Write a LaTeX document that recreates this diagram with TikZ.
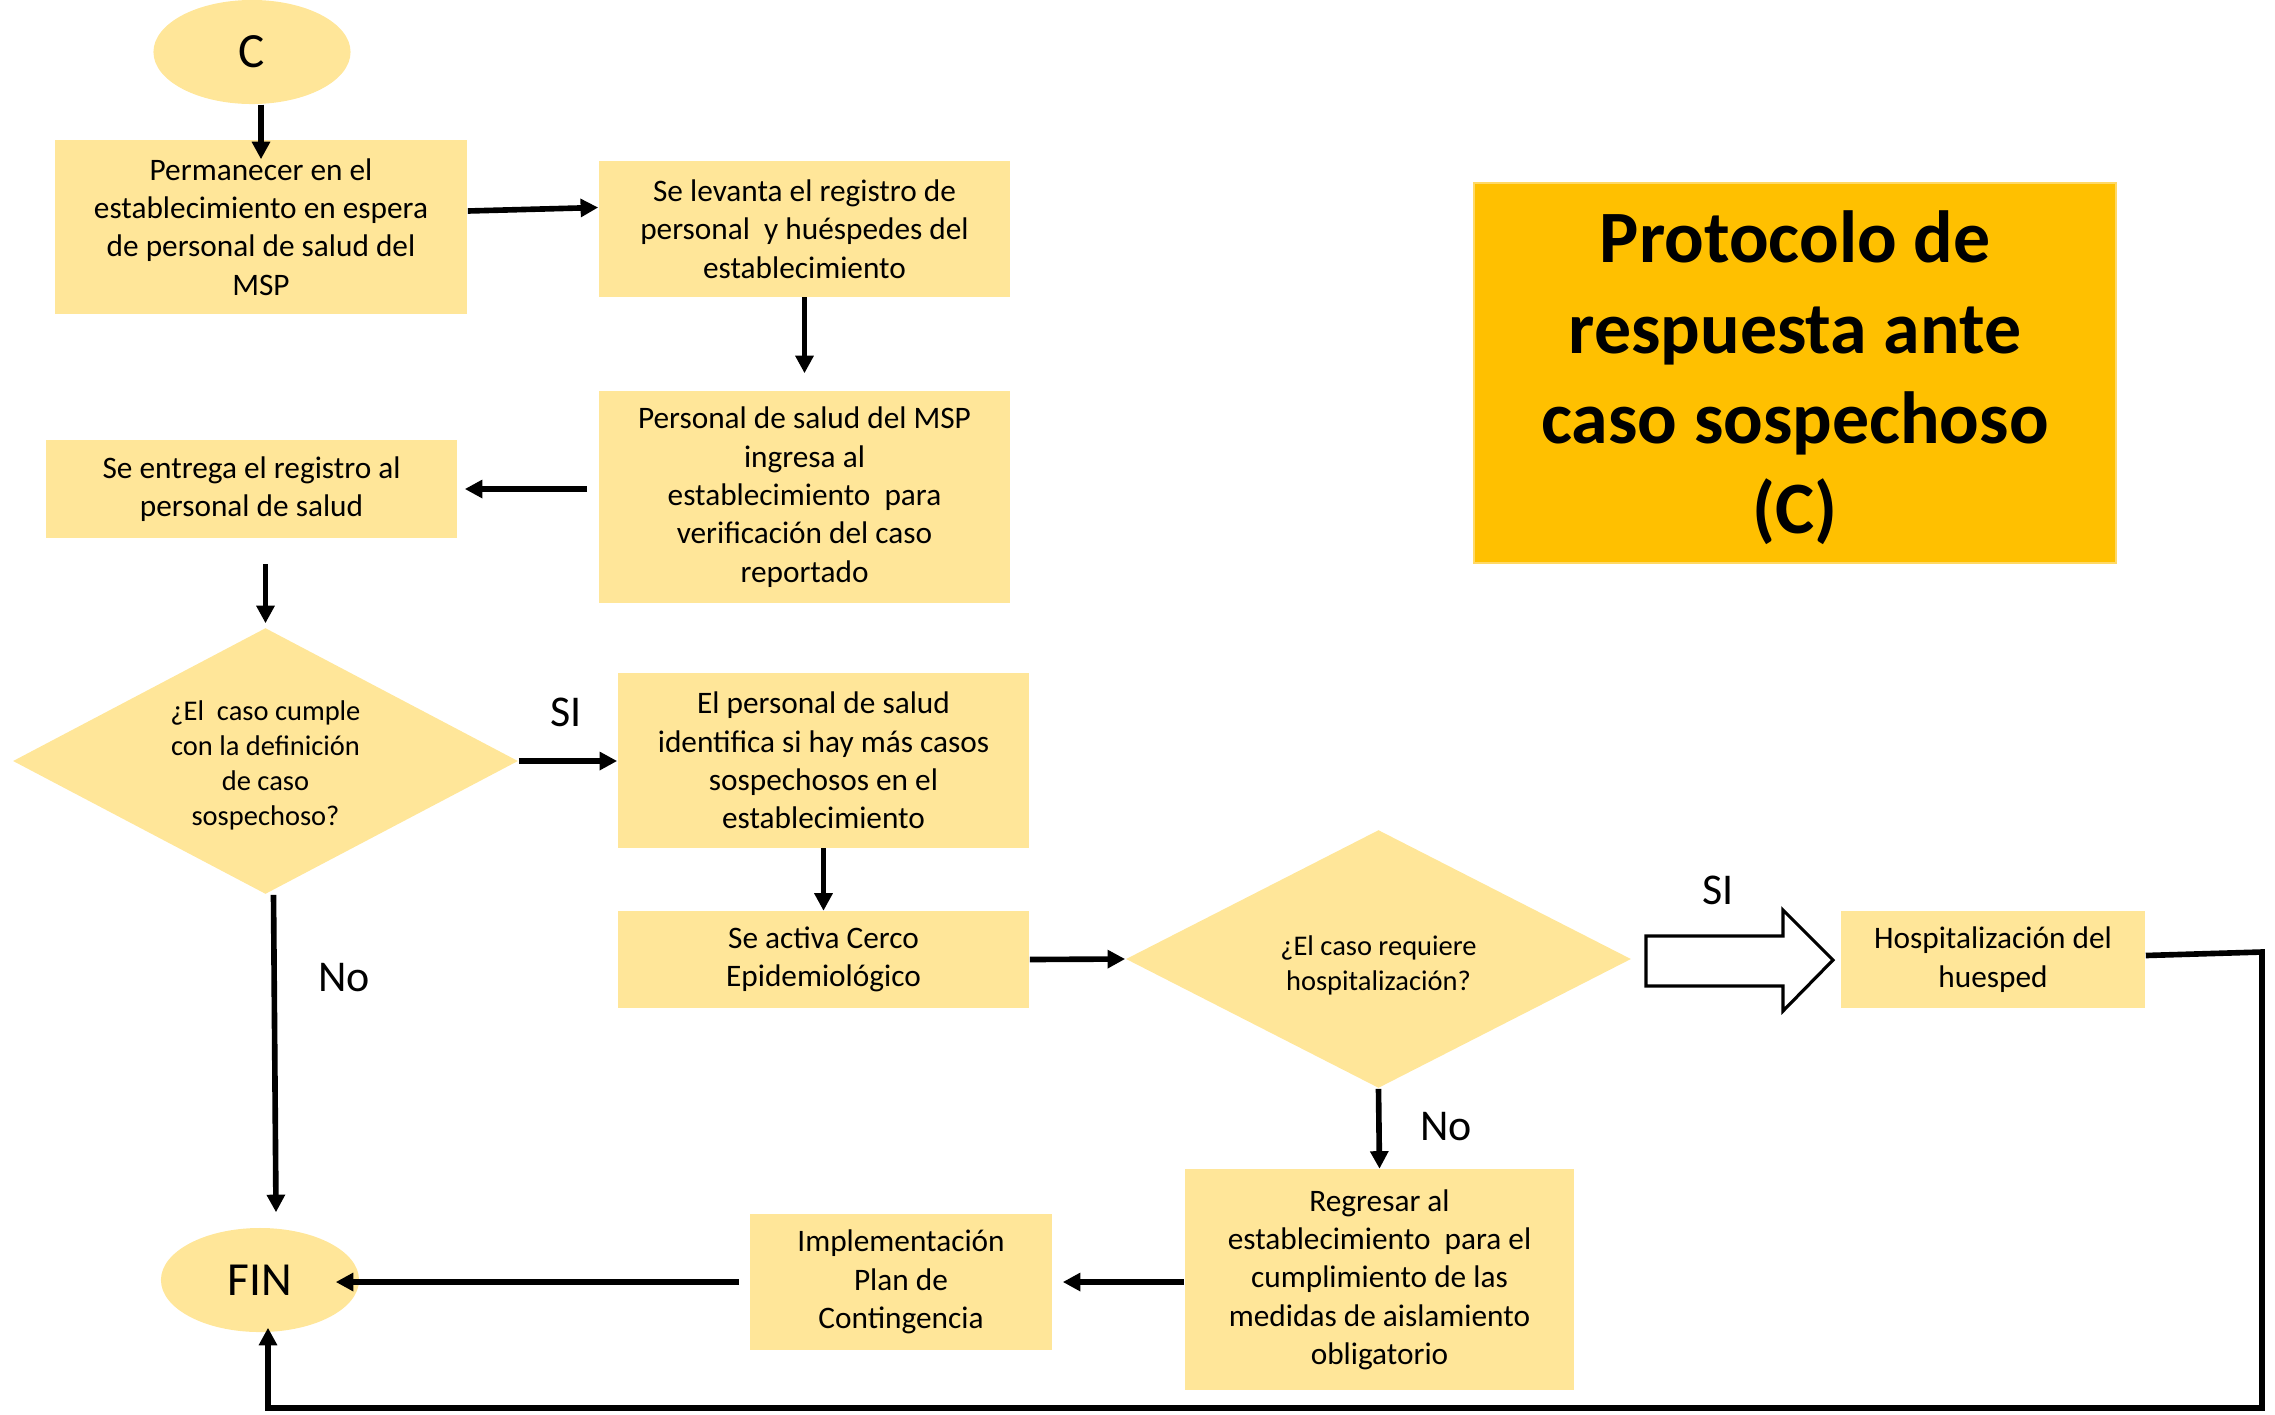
\documentclass[tikz,border=0pt]{standalone}
\usepackage{fontspec}
\setmainfont{Carlito}
\usetikzlibrary{arrows.meta,shapes.geometric,calc}
\definecolor{boxy}{HTML}{FFE699}
\definecolor{titley}{HTML}{FFC000}
\definecolor{titleedge}{HTML}{FFD966}
\begin{document}
\begin{tikzpicture}[x=0.01cm,y=-0.01cm,
  box/.style={fill=boxy, draw=none, align=center, inner sep=0pt, font=\fontsize{8.9}{10.9}\selectfont},
  ell/.style={ellipse, fill=boxy, draw=none, inner sep=0pt},
  dia/.style={diamond, fill=boxy, draw=none, inner sep=0pt},
  dtext/.style={align=center, yshift=-0.045cm, font=\fontsize{8.1}{9.9}\selectfont},
  ttext/.style={align=center, yshift=-0.05cm, font=\fontsize{21}{25.7}\selectfont\bfseries},
  lab/.style={font=\fontsize{12.5}{14}\selectfont, inner sep=0pt},
  arr/.style={line width=1.6pt, -{Triangle[length=5pt,width=5pt]}},
  line/.style={line width=1.6pt}]
\useasboundingbox (0,0) rectangle (2275,1414);

% nodes
\node[ell, minimum width=1.97cm, minimum height=1.04cm, font=\fontsize{14}{16}\selectfont] (C) at (252,52) {C};
\node[box, minimum width=4.12cm, minimum height=1.74cm] (b1) at (261,227)
  {Permanecer en el\\establecimiento en espera\\de personal de salud del\\MSP};
\node[box, minimum width=4.11cm, minimum height=1.35cm] (b2) at (804.5,229)
  {Se levanta el registro de\\personal\ \ y huéspedes del\\establecimiento};
\node[box, minimum width=4.11cm, minimum height=2.12cm] (b3) at (804.5,497)
  {Personal de salud del MSP\\ingresa al\\establecimiento\ \ para\\verificación del caso\\reportado};
\node[box, minimum width=4.11cm, minimum height=0.97cm] (b4) at (251.5,489)
  {Se entrega el registro al\\personal de salud};
\node[dia, minimum width=5.05cm, minimum height=2.66cm,
  label={[dtext]center:{¿El\ \ caso cumple\\con la definición\\de caso\\sospechoso?}}] (d1) at (265.5,761) {};
\node[box, minimum width=4.11cm, minimum height=1.74cm] (b5) at (823.5,760.5)
  {El personal de salud\\identifica si hay más casos\\sospechosos en el\\establecimiento};
\node[box, minimum width=4.11cm, minimum height=0.96cm] (b6) at (823.5,959.5)
  {Se activa Cerco\\Epidemiológico};
\node[dia, minimum width=5.05cm, minimum height=2.58cm,
  label={[dtext,yshift=-0.02cm]center:{¿El caso requiere\\hospitalización?}}] (d2) at (1378.5,959) {};
\node[box, minimum width=3.04cm, minimum height=0.96cm] (b7) at (1993,959.5)
  {Hospitalización del\\huesped};
\node[box, minimum width=3.89cm, minimum height=2.20cm] (b8) at (1379.5,1279.5)
  {Regresar al\\establecimiento\ \ para el\\cumplimiento de las\\medidas de aislamiento\\obligatorio};
\node[box, minimum width=3.02cm, minimum height=1.35cm] (b9) at (901,1282)
  {Implementación\\Plan de\\Contingencia};
\node[ell, minimum width=1.98cm, minimum height=1.04cm, font=\fontsize{13.5}{16}\selectfont] (FIN) at (260,1280) {FIN};
\node[fill=titley, draw=titleedge, line width=0.6pt, inner sep=0pt,
  minimum width=6.42cm, minimum height=3.80cm,
  label={[ttext]center:{Protocolo de\\respuesta ante\\caso sospechoso\\(C)}}] (title) at (1795,373) {};

% labels
\node[lab] (si1) at (566,712) {SI};
\node[lab] (no1) at (344,978) {No};
\node[lab] (si2) at (1718,890) {SI};
\node[lab] (no2) at (1446,1127) {No};

% connectors
\draw[arr, shorten >=-0.2cm] (C.south -| b1.north) -- (b1.north);
\draw[arr] ([yshift=0.16cm]b1.east) -- ([yshift=0.215cm]b2.west);
\draw[arr, shorten >=0.17cm] (b2.south) -- (b3.north);
\draw[arr, shorten <=0.11cm, shorten >=0.07cm] (b4.east -| b3.west) -- (b4.east);
\draw[arr, shorten <=0.26cm, shorten >=0.04cm] (d1.north |- b4.south) -- (d1.north);
\draw[arr] (d1.east) -- (d1.east -| b5.west);
\draw[arr] ([xshift=0.08cm]d1.south) -- ([xshift=0.16cm,yshift=0.15cm]FIN.north);
\draw[arr] (b5.south) -- (b6.north);
\draw[arr] (b6.east) -- (d2.west);
\draw[arr] (d2.south) -- (b8.north);
\draw[arr, shorten >=0.1cm] (b8.west |- b9.east) -- (b9.east);
\draw[arr, shorten <=0.1cm, shorten >=-0.24cm] (b9.west) -- (b9.west -| FIN.east);

% block arrow to hospitalization
\draw[line width=0.9pt, fill=white, line join=miter]
  (1646,936) -- (1783,936) -- (1783,910) -- (1833,960) -- (1783,1011) -- (1783,986) -- (1646,986) -- cycle;

% return loop
\coordinate (rc) at (2262,952);
\coordinate (bl) at (268,1408);
\draw[arr, shorten >=-0.05cm] ([yshift=0.04cm]b7.east) -- (rc) |- (bl) -- (bl |- FIN.south);
\end{tikzpicture}
\end{document}
